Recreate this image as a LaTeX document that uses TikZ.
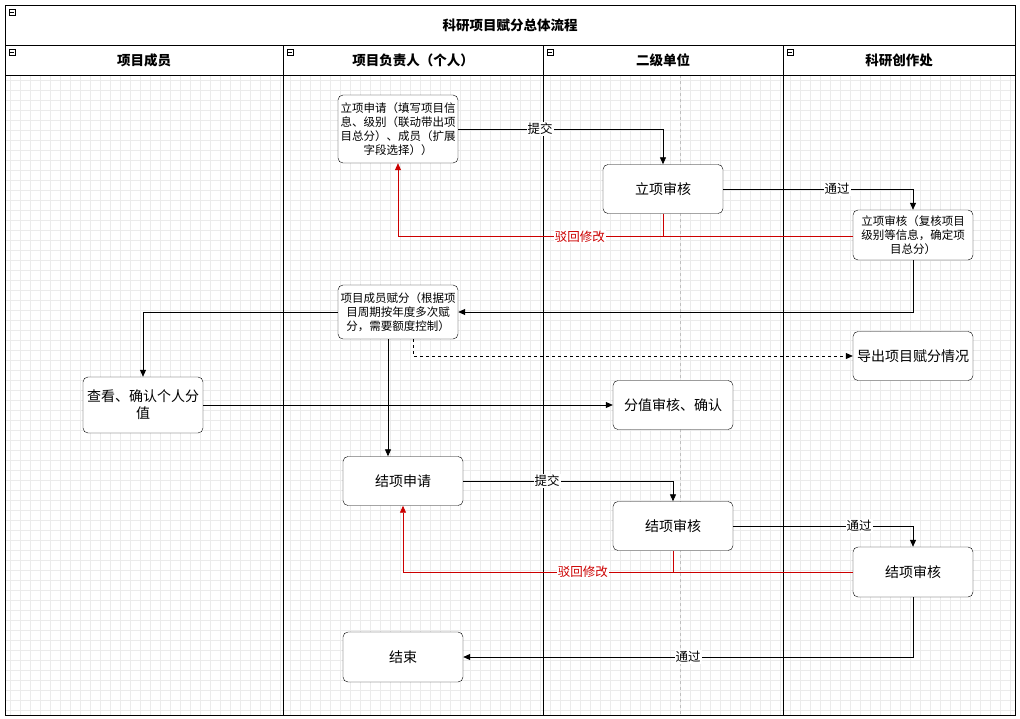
\documentclass[tikz,border=0pt]{standalone}
\usepackage{fontspec}
\setmainfont{Noto Sans CJK SC}
\usetikzlibrary{arrows.meta}
\tikzset{
  task/.style={draw,rounded corners=5pt,fill=white,minimum width=120pt,minimum height=49pt,
    align=center,font=\fontsize{14}{17}\selectfont},
  small/.style={task,font=\fontsize{11.5}{14}\selectfont,inner sep=1pt},
  flow/.style={draw,line width=0.8pt,-{Triangle[length=7pt,width=6pt]}},
  back/.style={flow,red!80!black},
  lbl/.style={fill=white,inner sep=1pt,font=\fontsize{12.5}{14}\selectfont},
  head/.style={font=\bfseries\fontsize{13.5}{15}\selectfont},
  tog/.style={draw,fill=white,minimum size=6pt,inner sep=0pt}
}
\begin{document}
\begin{tikzpicture}[x=1pt,y=-1pt]
  \useasboundingbox (0,0) rectangle (1020,718);
  \fill[white] (0,0) rectangle (1020,718);
  % grid
  \draw[black!8,step=10pt] (5,75) grid (1015,715);
  \draw[black!25,dashed] (680,75) -- (680,715);
  % pool and lanes
  \draw[thick] (5,5) rectangle (1015,715);
  \draw[thick] (5,45) -- (1015,45);
  \draw (5,75) -- (1015,75);
  \foreach \x in {283,543,783} \draw[thick] (\x,45) -- (\x,715);
  \node[head] at (510,25) {科研项目赋分总体流程};
  \node[head] at (144,60) {项目成员};
  \node[head] at (413,60) {项目负责人（个人）};
  \node[head] at (663,60) {二级单位};
  \node[head] at (899,60) {科研创作处};
  \foreach \x/\y in {12/12,12/52,290/52,550/52,790/52}
    \node[tog] at (\x,\y) {\rule{4pt}{0.5pt}};
  % tasks
  \node[small,minimum height=68pt] (apply) at (398,129) {立项申请（填写项目信\\息、级别（联动带出项\\目总分）、成员（扩展\\字段选择））};
  \node[task] (check1) at (663,189) {立项审核};
  \node[small,minimum height=50pt] (review1) at (913,235) {立项审核（复核项目\\级别等信息，确定项\\目总分）};
  \node[small,minimum height=54pt] (assign) at (398,312) {项目成员赋分（根据项\\目周期按年度多次赋\\分，需要额度控制）};
  \node[task] (export) at (913,356) {导出项目赋分情况};
  \node[task,minimum height=56pt] (confirm) at (143,405) {查看、确认个人分\\值};
  \node[task] (score) at (673,405) {分值审核、确认};
  \node[task] (close) at (403,481) {结项申请};
  \node[task] (check2) at (673,526) {结项审核};
  \node[task,minimum height=50pt] (review2) at (913,572) {结项审核};
  \node[task,minimum height=50pt] (finish) at (403,657) {结束};
  % connectors
  \draw[flow] (apply.east) -| node[lbl,pos=0.2] {提交} (check1.north);
  \draw[flow] (check1.east) -| node[lbl,pos=0.3] {通过} (review1.north);
  \draw[red!80!black,line width=0.8pt] (check1.south) -- (663,236.5);
  \draw[back] (review1.west |- 0,236.5) -- (398,236.5) node[lbl,pos=0.6,text=red!80!black] {驳回修改} -- (apply.south);
  \draw[flow] (review1.south) |- (assign.east);
  \draw[flow,dashed] (413,339) |- (export.west);
  \draw[flow] (assign.south -| 388,0) -- (close.north -| 388,0);
  \draw[flow] (assign.west) -| (confirm.north);
  \draw[flow] (confirm.east) -- (score.west);
  \draw[flow] (close.east) -| node[lbl,pos=0.2] {提交} (check2.north);
  \draw[flow] (check2.east) -| node[lbl,pos=0.35] {通过} (review2.north);
  \draw[red!80!black,line width=0.8pt] (check2.south) -- (673,572);
  \draw[back] (review2.west) -- (403,572) node[lbl,pos=0.6,text=red!80!black] {驳回修改} -- (close.south);
  \draw[flow] (review2.south) |- node[lbl,pos=0.75] {通过} (finish.east);
\end{tikzpicture}
\end{document}
